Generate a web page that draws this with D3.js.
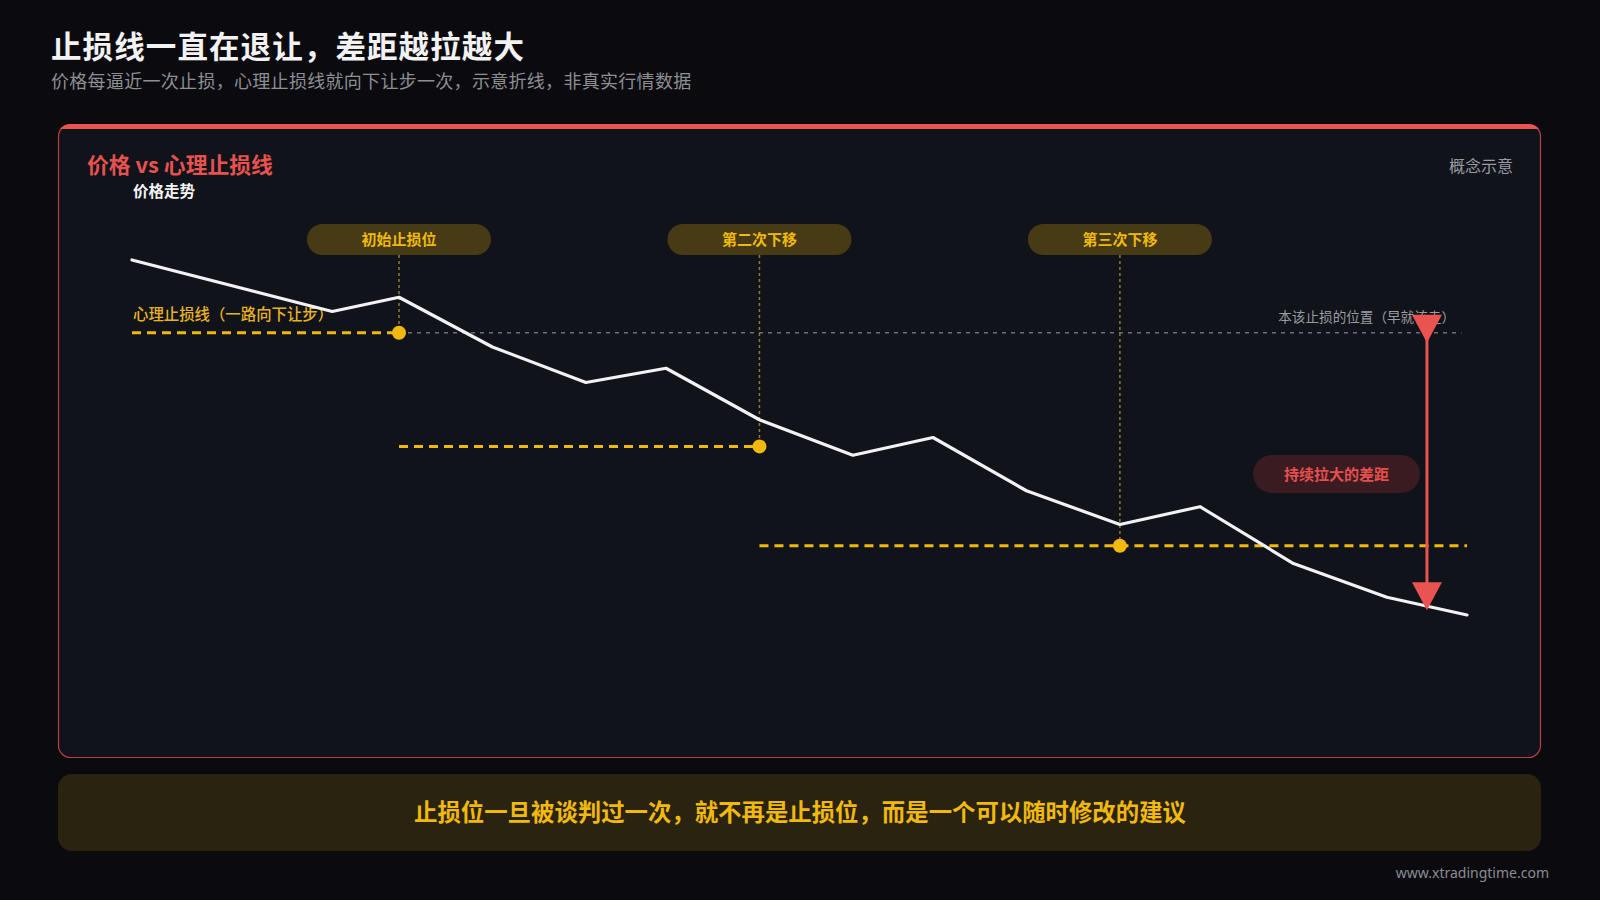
<!DOCTYPE html>
<html><head><meta charset="utf-8">
<script src="https://cdn.jsdelivr.net/npm/d3@7/dist/d3.min.js"></script>
<style>
html,body{margin:0;padding:0;background:#0b0b0f;}
svg{display:block;font-family:"Noto Sans CJK SC","Noto Sans",sans-serif;}
</style></head>
<body>
<svg id="c" width="1600" height="900"></svg>
<script>
// ---- data ----
const priceX = [0, 15, 20, 27, 34, 40, 47, 54, 60, 67, 74, 80, 87, 94, 100];
const priceY = [100, 85.5, 89.5, 75.5, 65.5, 69.5, 55, 45, 50, 35, 25.5, 30.5, 14.5, 5, 0];
const stopLevels = [79.5, 47.5, 19.5];
const stopStartX = [0, 20, 47];
const stopEndX = [20, 47, 100];
const stopDotX = [20, 47, 74];
const stepLabels = ["初始止损位", "第二次下移", "第三次下移"];
const idealLevel = 79.5;
const idealRange = [20, 99.6];
const gapX = 97;
const gapEndValue = 2.5;

const svg = d3.select("#c");
const W = 1600, H = 900;
const x = d3.scaleLinear().domain([0, 100]).range([132, 1467]);
const y = d3.scaleLinear().domain([0, 100]).range([615, 260]);

const YEL = "#f0b90b", RED = "#ea5450", GRAY = "#9a9ca3";

svg.append("rect").attr("width", W).attr("height", H).attr("fill", "#0b0b0f");

// titles
svg.append("text").attr("x", 51).attr("y", 58).attr("fill", "#f2f2f2")
  .attr("font-size", 30.5).attr("font-weight", 700).attr("letter-spacing", 1.1)
  .text("止损线一直在退让，差距越拉越大");
svg.append("text").attr("x", 51).attr("y", 88).attr("fill", "#8d8f95")
  .attr("font-size", 18).attr("letter-spacing", 0.3)
  .text("价格每逼近一次止损，心理止损线就向下让步一次，示意折线，非真实行情数据");

// panel
const P = {x: 58, y: 124, w: 1483, h: 634, r: 12};
svg.append("rect").attr("x", P.x + 0.5).attr("y", P.y + 0.5).attr("width", P.w - 1).attr("height", P.h - 1)
  .attr("rx", P.r).attr("fill", "#10131a").attr("stroke", "#d9494c").attr("stroke-opacity", 0.85).attr("stroke-width", 1.2);
const clip = svg.append("defs").append("clipPath").attr("id", "pc");
clip.append("rect").attr("x", P.x).attr("y", P.y).attr("width", P.w).attr("height", P.h).attr("rx", P.r);
svg.append("rect").attr("x", P.x).attr("y", P.y).attr("width", P.w).attr("height", 5)
  .attr("fill", "#ea5450").attr("clip-path", "url(#pc)");

svg.append("text").attr("x", 87).attr("y", 173).attr("fill", "#e8524e")
  .attr("font-size", 21.8).attr("font-weight", 700).text("价格 vs 心理止损线");
svg.append("text").attr("x", 1513).attr("y", 172).attr("fill", GRAY)
  .attr("font-size", 16).attr("text-anchor", "end").text("概念示意");
svg.append("text").attr("x", 133).attr("y", 197).attr("fill", "#f5f5f5")
  .attr("font-size", 15.5).attr("font-weight", 700).text("价格走势");

const g = svg.append("g");

// ideal stop (gray dotted)
g.append("line").attr("x1", x(idealRange[0])).attr("x2", x(idealRange[1]))
  .attr("y1", y(idealLevel)).attr("y2", y(idealLevel))
  .attr("stroke", "#6d7079").attr("stroke-width", 1.5).attr("stroke-dasharray", "4,5");
g.append("text").attr("x", 1455).attr("y", 322).attr("fill", GRAY)
  .attr("font-size", 13.6).attr("text-anchor", "end").text("本该止损的位置（早就该走）");

// pills + vertical guides
const pillW = 184, pillH = 31, pillY = 224;
stepLabels.forEach((lab, i) => {
  const cx = x(stopDotX[i]);
  g.append("line").attr("x1", cx).attr("x2", cx).attr("y1", pillY + pillH).attr("y2", y(stopLevels[i]))
    .attr("stroke", "#8c7d2c").attr("stroke-width", 1.5).attr("stroke-dasharray", "3,3");
  g.append("rect").attr("x", cx - pillW / 2).attr("y", pillY).attr("width", pillW).attr("height", pillH)
    .attr("rx", pillH / 2).attr("fill", "#463b15");
  g.append("text").attr("x", cx).attr("y", pillY + pillH / 2 + 5.5).attr("text-anchor", "middle")
    .attr("fill", YEL).attr("font-size", 15).attr("font-weight", 700).text(lab);
});

// stop lines (yellow dashed)
stopLevels.forEach((lv, i) => {
  g.append("line").attr("x1", x(stopStartX[i])).attr("x2", x(stopEndX[i]))
    .attr("y1", y(lv)).attr("y2", y(lv))
    .attr("stroke", YEL).attr("stroke-width", 3).attr("stroke-dasharray", "9,6");
});
g.append("text").attr("x", 133).attr("y", 320).attr("fill", "#e8b320")
  .attr("font-size", 15.4).attr("font-weight", 500).text("心理止损线（一路向下让步）");

// price line
const pts = priceX.map((d, i) => [x(d), y(priceY[i])]);
g.append("path").attr("d", d3.line()(pts)).attr("fill", "none")
  .attr("stroke", "#f2f2f4").attr("stroke-width", 3.2).attr("stroke-linejoin", "round").attr("stroke-linecap", "round");

// dots
stopLevels.forEach((lv, i) => {
  g.append("circle").attr("cx", x(stopDotX[i])).attr("cy", y(lv)).attr("r", 7).attr("fill", YEL);
});

// gap pill
g.append("rect").attr("x", 1253).attr("y", 455).attr("width", 167).attr("height", 38).attr("rx", 19)
  .attr("fill", "#3a1b21");
g.append("text").attr("x", 1336.5).attr("y", 479.5).attr("text-anchor", "middle").attr("fill", "#e5504c")
  .attr("font-size", 15).attr("font-weight", 700).text("持续拉大的差距");

// gap arrow
const ax = x(gapX), ay1 = y(idealLevel), ay2 = y(gapEndValue) + 4;
g.append("line").attr("x1", ax).attr("x2", ax).attr("y1", ay1).attr("y2", ay2 - 20)
  .attr("stroke", RED).attr("stroke-width", 3);
const tri = (cx, tip) => `M${cx - 15},${tip - 28}L${cx + 15},${tip - 28}L${cx},${tip}Z`;
g.append("path").attr("d", tri(ax, ay1 + 10)).attr("fill", RED);
g.append("path").attr("d", tri(ax, ay2)).attr("fill", RED);

// bottom banner
svg.append("rect").attr("x", 58).attr("y", 774).attr("width", 1483).attr("height", 77).attr("rx", 14)
  .attr("fill", "#29230f");
svg.append("text").attr("x", 800).attr("y", 821).attr("text-anchor", "middle").attr("fill", YEL)
  .attr("font-size", 23.4).attr("font-weight", 700).text("止损位一旦被谈判过一次，就不再是止损位，而是一个可以随时修改的建议");

svg.append("text").attr("x", 1549).attr("y", 878).attr("text-anchor", "end").attr("fill", "#8a8c92")
  .attr("font-size", 14).attr("font-family", "'Noto Sans', sans-serif").text("www.xtradingtime.com");
</script>
</body></html>
